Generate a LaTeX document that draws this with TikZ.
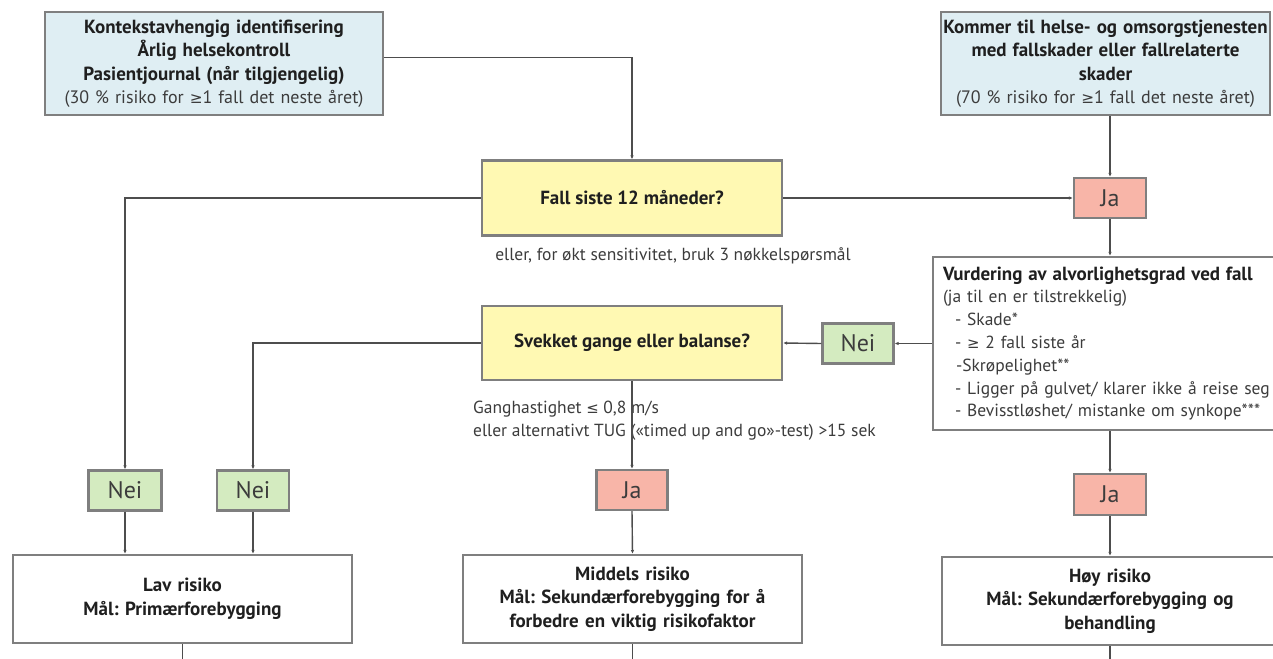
\documentclass[tikz,border=0pt]{standalone}
\usepackage{fontspec}
\setmainfont{PT Sans}
\newfontfamily\symfont{DejaVu Sans}
\newcommand\gesign{{\symfont\fontsize{0.85em}{1em}\selectfont ≥}}
\newcommand\lesign{{\symfont\fontsize{0.85em}{1em}\selectfont ≤}}
\usepackage{xcolor}
\usetikzlibrary{arrows.meta,positioning}
\definecolor{edge}{HTML}{7F7F7F}
\definecolor{wire}{HTML}{4D4D4D}
\definecolor{ink}{HTML}{1F1F1F}
\definecolor{soft}{HTML}{3C3C3C}
\definecolor{bluefill}{HTML}{DFEEF3}
\definecolor{yellowfill}{HTML}{FFF9B3}
\definecolor{redfill}{HTML}{F8B5A8}
\definecolor{greenfill}{HTML}{D4EBC0}
\tikzset{
  box/.style={draw=edge, line width=2.2pt, inner sep=0pt, align=center},
  start/.style={box, fill=bluefill, minimum height=103pt, text=ink, font=\fontsize{18}{23.5}\selectfont},
  ask/.style={box, fill=yellowfill, minimum width=300pt, minimum height=75pt, text=ink, font=\fontsize{19}{22}\selectfont\bfseries},
  yes/.style={box, fill=redfill, minimum width=72pt, minimum height=40pt, text=soft, font=\fontsize{24}{26}\selectfont},
  no/.style={yes, fill=greenfill},
  risk/.style={box, fill=white, minimum width=339pt, minimum height=88pt, text width=330pt, text=ink, font=\fontsize{19}{23.5}\selectfont\bfseries},
  wire/.style={draw=wire, line width=1.4pt, -{Latex[length=4pt,width=3.5pt]}},
  line/.style={draw=wire, line width=1.4pt},
  note/.style={text=soft, inner sep=0pt, font=\fontsize{17.5}{23}\selectfont},
}
\frenchspacing
\begin{document}
\frenchspacing
\begin{tikzpicture}[x=1pt,y=-1pt]
  \useasboundingbox (0,0) rectangle (1273,658);
  \clip (0,0) rectangle (1273,658);
  % entry boxes
  \node[start, minimum width=338pt, text width=334pt] (ctx) at (214,63.5)
    {{\fontsize{19}{23.5}\selectfont\bfseries Kontekstavhengig identifisering\\ Årlig helsekontroll\\
     Pasientjournal (når tilgjengelig)}\\ {\color{soft}(30~\% risiko for \gesign1 fall det neste året)}};
  \node[start, minimum width=329pt, text width=327pt] (inj) at (1105.5,63.5)
    {{\fontsize{19}{23.5}\selectfont\bfseries Kommer til helse- og omsorgstjenesten\\ med fallskader eller fallrelaterte\\
     skader}\\ {\color{soft}(70~\% risiko for \gesign1 fall det neste året)}};
  % questions
  \node[ask] (fall) at (632,198) {Fall siste 12 måneder?};
  \node[note] (fallnote) at (673,256) {eller, for økt sensitivitet, bruk 3 nøkkelspørsmål};
  \node[yes] (jaA) at (1110,198) {Ja};
  \node[box, fill=white, minimum width=354pt, minimum height=173pt, text width=334pt, align=left,
        text=soft, font=\fontsize{17.5}{22.8}\selectfont] (sev) at (1110,343.5)
    {\mbox{\fontsize{19}{22.8}\selectfont\textbf{\color{ink}Vurdering av alvorlighetsgrad ved fall}}\\
     \mbox{(ja til en er tilstrekkelig)}\\
     \mbox{\hspace*{12pt}- Skade*}\\
     \mbox{\hspace*{12pt}- \gesign{} 2 fall siste år}\\
     \mbox{\hspace*{13pt}-Skrøpelighet**}\\
     \mbox{\hspace*{12pt}- Ligger på gulvet/ klarer ikke å reise seg}\\
     \mbox{\hspace*{12pt}- Bevisstløshet/ mistanke om synkope***}};
  \node[no, minimum width=71pt] (neiR) at (858,343.5) {Nei};
  \node[ask, minimum height=74pt] (svk) at (632,343) {Svekket gange eller balanse?};
  \node[note, anchor=north west, align=left] (gait) at (473,401)
    {Ganghastighet \lesign{} 0,8 m/s\\ eller alternativt TUG («timed up and go»-test) >15 sek};
  % answers
  \node[no, minimum width=73pt] (neiA) at (125,490.5) {Nei};
  \node[no] (neiB) at (253,490.5) {Nei};
  \node[yes, minimum width=71pt] (jaB) at (632,490) {Ja};
  \node[yes, minimum height=41pt] (jaC) at (1110,494.5) {Ja};
  % risk levels
  \node[risk] (lav) at (182.5,599) {Lav risiko\\ Mål: Primærforebygging};
  \node[risk] (mid) at (632.5,599) {Middels risiko\\ Mål: Sekundærforebygging for å\\ forbedre en viktig risikofaktor};
  \node[risk, minimum width=336pt] (hoy) at (1110,601) {Høy risiko\\ Mål: Sekundærforebygging og\\ behandling};
  \coordinate (lavEnd) at (182.5,670);
  \coordinate (midEnd) at (632.5,670);
  \coordinate (hoyEnd) at (1110,670);
  % connectors
  \draw[wire] ([yshift=6pt]ctx.east) -| (fall.north);
  \draw[wire] (fall.west) -| (neiA.north);
  \draw[wire] (fall.east) -- (jaA.west);
  \draw[wire] (inj.south -| jaA.north) -- (jaA.north);
  \draw[wire] (jaA.south) -- (sev.north);
  \draw[wire] (sev.west) -- (neiR.east);
  \draw[wire] (neiR.west) -- (svk.east);
  \draw[wire] (svk.west) -| (neiB.north);
  \draw[wire] (svk.south) -- (jaB.north);
  \draw[wire] (neiA.south) -- (lav.north -| neiA.south);
  \draw[wire] (neiB.south) -- (lav.north -| neiB.south);
  \draw[wire] (jaB.south) -- (mid.north);
  \draw[wire] (sev.south) -- (jaC.north);
  \draw[wire] (jaC.south) -- (hoy.north);
  \draw[line] (lav.south) -- (lavEnd);
  \draw[line] (mid.south) -- (midEnd);
  \draw[line] (hoy.south) -- (hoyEnd);
\end{tikzpicture}
\end{document}
